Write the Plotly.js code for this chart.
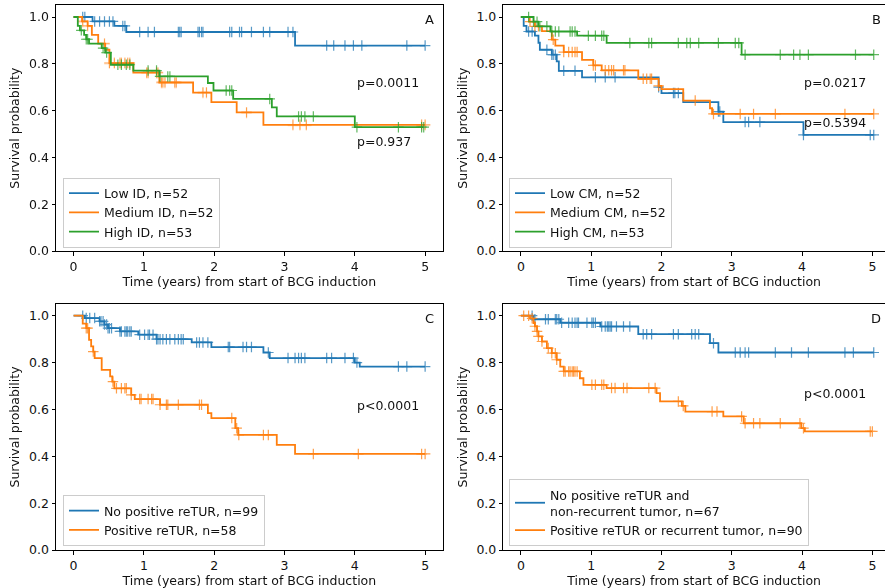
<!DOCTYPE html>
<html><head><meta charset="utf-8">
<script src="https://cdn.plot.ly/plotly-3.0.1.min.js"></script>
<style>html,body{margin:0;padding:0;background:#fff;overflow:hidden}</style>
</head><body><div id="chart" style="width:885px;height:588px"></div>
<script>
// ---------- Panel A: ID groups ----------
const A_low_t  = [0, 0.27, 0.58, 0.75, 3.15];
const A_low_s  = [1.0, 0.981, 0.962, 0.936, 0.878];
const A_low_c  = [0.13,0.16,0.30,0.37,0.44,0.51,0.56,0.70,0.73,0.94,1.06,1.15,1.49,1.51,1.53,1.77,1.79,1.82,1.84,2.22,2.25,2.36,2.39,2.53,2.70,2.79,3.05,3.12,3.60,3.70,3.86,3.98,4.10,4.74,5.00];
const A_med_t  = [0, 0.12, 0.20, 0.26, 0.35, 0.45, 0.51, 0.85, 1.22, 1.70, 1.96, 2.32, 2.70];
const A_med_s  = [1.0, 0.981, 0.962, 0.924, 0.886, 0.860, 0.803, 0.762, 0.720, 0.677, 0.636, 0.592, 0.539];
const A_med_c  = [0.13,0.20,0.44,0.51,0.58,0.66,0.68,0.73,0.77,0.80,1.04,1.06,1.18,1.20,1.25,1.27,1.30,1.44,1.46,1.84,1.89,2.46,3.12,3.22,3.31,4.95,5.00];
const A_high_t = [0, 0.06, 0.09, 0.15, 0.18, 0.22, 0.40, 0.45, 0.53, 0.85, 1.22, 1.91, 1.99, 2.27, 2.82, 2.89, 4.00];
const A_high_s = [1.0, 0.962, 0.943, 0.924, 0.905, 0.886, 0.867, 0.848, 0.796, 0.771, 0.746, 0.718, 0.686, 0.650, 0.614, 0.575, 0.529];
const A_high_c = [0.11,0.18,0.20,0.42,0.47,0.63,0.68,0.75,0.80,1.06,1.18,1.23,1.34,1.37,2.17,2.22,2.25,2.79,3.20,3.24,3.29,3.41,4.03,4.62,4.95,4.98];
const A_names  = ["Low ID, n=52", "Medium ID, n=52", "High ID, n=53"];
const A_pvals  = ["p=0.0011", "p=0.937"];
const A_pval_y = [0.719, 0.466];

// ---------- Panel B: CM groups ----------
const B_low_t  = [0, 0.04, 0.08, 0.20, 0.25, 0.27, 0.44, 0.51, 0.54, 0.87, 1.96, 2.00, 2.31, 2.81, 2.88, 4.02];
const B_low_s  = [1.0, 0.962, 0.938, 0.920, 0.890, 0.860, 0.839, 0.810, 0.770, 0.742, 0.700, 0.675, 0.636, 0.596, 0.551, 0.496];
const B_low_c  = [0.11,0.16,0.37,0.44,0.46,0.49,0.61,0.77,1.06,1.20,1.34,1.96,2.17,2.19,2.24,2.81,2.83,3.19,3.24,3.40,4.02,4.97,5.02];
const B_med_t  = [0, 0.12, 0.20, 0.30, 0.44, 0.49, 0.61, 0.87, 1.03, 1.15, 1.67, 1.96, 2.00, 2.31, 2.69, 2.72];
const B_med_s  = [1.0, 0.980, 0.960, 0.940, 0.903, 0.878, 0.850, 0.817, 0.793, 0.772, 0.736, 0.706, 0.692, 0.643, 0.610, 0.586];
const B_med_c  = [0.13,0.20,0.25,0.46,0.61,0.68,0.73,0.77,0.80,1.03,1.06,1.20,1.25,1.29,1.32,1.46,1.48,1.74,1.79,1.84,1.86,1.96,2.48,2.74,3.12,3.31,3.62,4.61,5.02];
const B_high_t = [0, 0.18, 0.25, 0.42, 0.80, 1.22, 3.14];
const B_high_s = [1.0, 0.980, 0.960, 0.938, 0.920, 0.889, 0.839];
const B_high_c = [0.11,0.18,0.23,0.27,0.37,0.44,0.49,0.54,0.70,0.73,0.77,0.96,1.06,1.15,1.18,1.55,1.82,1.86,2.24,2.36,2.41,2.53,2.81,3.05,3.10,3.19,3.69,3.88,3.97,4.09,4.76,5.02];
const B_names  = ["Low CM, n=52", "Medium CM, n=52", "High CM, n=53"];
const B_pvals  = ["p=0.0217", "p=0.5394"];
const B_pval_y = [0.72, 0.548];

// ---------- Panel C: reTUR ----------
const C_neg_t  = [0, 0.16, 0.37, 0.44, 0.49, 0.66, 0.92, 1.18, 1.68, 1.96, 2.70, 2.79, 4.00, 4.07];
const C_neg_s  = [1.0, 0.990, 0.976, 0.962, 0.947, 0.933, 0.919, 0.900, 0.886, 0.866, 0.843, 0.819, 0.800, 0.783];
const C_neg_c  = [0.13,0.18,0.23,0.30,0.37,0.39,0.42,0.44,0.47,0.49,0.51,0.54,0.66,0.68,0.73,0.75,0.77,0.80,0.82,0.94,1.01,1.06,1.08,1.13,1.18,1.20,1.23,1.27,1.32,1.37,1.44,1.49,1.53,1.56,1.75,1.79,1.84,1.91,2.20,2.22,2.41,2.46,2.53,2.77,3.05,3.15,3.20,3.24,3.29,3.60,3.67,3.86,3.98,4.03,4.62,4.74,5.00];
const C_pos_t  = [0, 0.13, 0.18, 0.22, 0.25, 0.28, 0.30, 0.40, 0.52, 0.55, 0.58, 0.82, 0.87, 1.23, 1.91, 1.96, 2.30, 2.34, 2.89, 3.15];
const C_pos_s  = [1.0, 0.966, 0.947, 0.897, 0.869, 0.847, 0.819, 0.769, 0.741, 0.719, 0.690, 0.662, 0.644, 0.620, 0.584, 0.563, 0.520, 0.491, 0.449, 0.410];
const C_pos_c  = [0.18,0.20,0.28,0.56,0.61,0.68,0.73,0.75,0.82,0.94,0.96,1.06,1.11,1.13,1.23,1.32,1.34,1.49,1.79,1.82,2.25,2.32,2.35,2.70,2.77,3.41,4.05,4.95,5.00];
const C_names  = ["No positive reTUR, n=99", "Positive reTUR, n=58"];
const C_pvals  = ["p<0.0001"];
const C_pval_y = [0.615];

// ---------- Panel D: reTUR or recurrence ----------
const D_neg_t  = [0, 0.18, 0.56, 1.13, 1.67, 2.69, 2.81];
const D_neg_s  = [1.0, 0.985, 0.970, 0.954, 0.921, 0.883, 0.843];
const D_neg_c  = [0.16,0.20,0.35,0.39,0.49,0.51,0.54,0.58,0.68,0.73,0.77,0.80,0.82,0.94,1.01,1.03,1.06,1.15,1.20,1.23,1.25,1.27,1.29,1.36,1.46,1.55,1.74,1.79,1.86,2.17,2.24,2.43,2.48,2.53,2.74,3.05,3.12,3.19,3.24,3.62,3.85,4.09,4.61,4.73,5.02];
const D_pos_t  = [0, 0.13, 0.18, 0.20, 0.23, 0.25, 0.30, 0.37, 0.44, 0.51, 0.56, 0.61, 0.84, 0.89, 1.22, 1.93, 1.98, 2.29, 2.34, 2.88, 3.17, 3.99, 4.04];
const D_pos_s  = [1.0, 0.989, 0.969, 0.955, 0.933, 0.912, 0.890, 0.862, 0.840, 0.812, 0.783, 0.762, 0.733, 0.705, 0.691, 0.670, 0.634, 0.615, 0.591, 0.570, 0.541, 0.520, 0.506];
const D_pos_c  = [0.04,0.11,0.16,0.20,0.23,0.25,0.30,0.39,0.44,0.49,0.51,0.61,0.63,0.68,0.70,0.73,0.75,0.77,0.80,1.01,1.06,1.15,1.18,1.29,1.34,1.46,1.51,1.82,1.91,2.24,2.31,2.72,2.79,3.14,3.19,3.31,3.40,3.69,3.97,4.02,4.97,5.00];
const D_names  = ["No positive reTUR and<br>non-recurrent tumor, n=67", "Positive reTUR or recurrent tumor, n=90"];
const D_pvals  = ["p<0.0001"];
const D_pval_y = [0.667];

const panelLetters = ["A", "B", "C", "D"];
const xTitle = "Time (years) from start of BCG induction";
const yTitle = "Survival probability";
const COLORS = ["#1f77b4", "#ff7f0e", "#2ca02c"];

// ---------- build ----------
function stepAt(ts, ss, t) {
  let v = ss[0];
  for (let i = 0; i < ts.length; i++) { if (ts[i] <= t) v = ss[i]; }
  return v;
}
const traces = [];
function addGroup(ax, legendId, name, color, ts, ss, cs) {
  const tEnd = Math.max(ts[ts.length - 1], Math.max(...cs));
  traces.push({
    type: "scatter", mode: "lines", name: name, legend: legendId,
    x: ts.concat([tEnd]), y: ss.concat([ss[ss.length - 1]]),
    xaxis: "x" + ax, yaxis: "y" + ax,
    line: {shape: "hv", color: color, width: 1.8}, hoverinfo: "skip"
  });
  traces.push({
    type: "scatter", mode: "markers", showlegend: false,
    x: cs, y: cs.map(t => stepAt(ts, ss, t)),
    xaxis: "x" + ax, yaxis: "y" + ax, opacity: 0.75,
    marker: {symbol: "cross-thin", size: 7.5, color: color, line: {color: color, width: 1.2}},
    hoverinfo: "skip"
  });
}
addGroup("", "legend", A_names[0], COLORS[0], A_low_t, A_low_s, A_low_c);
addGroup("", "legend", A_names[1], COLORS[1], A_med_t, A_med_s, A_med_c);
addGroup("", "legend", A_names[2], COLORS[2], A_high_t, A_high_s, A_high_c);
addGroup("2", "legend2", B_names[0], COLORS[0], B_low_t, B_low_s, B_low_c);
addGroup("2", "legend2", B_names[1], COLORS[1], B_med_t, B_med_s, B_med_c);
addGroup("2", "legend2", B_names[2], COLORS[2], B_high_t, B_high_s, B_high_c);
addGroup("3", "legend3", C_names[0], COLORS[0], C_neg_t, C_neg_s, C_neg_c);
addGroup("3", "legend3", C_names[1], COLORS[1], C_pos_t, C_pos_s, C_pos_c);
addGroup("4", "legend4", D_names[0], COLORS[0], D_neg_t, D_neg_s, D_neg_c);
addGroup("4", "legend4", D_names[1], COLORS[1], D_pos_t, D_pos_s, D_pos_c);

const W = 885, H = 588;
const FONT = {family: "DejaVu Sans", size: 12.5, color: "#111"};
function xAx(domL, domR, range, anchor) {
  return {domain: [domL / W, domR / W], range: range, anchor: anchor, automargin: false,
    showline: true, linecolor: "#000", linewidth: 1, mirror: true,
    ticks: "outside", ticklen: 3.5, tickwidth: 1, tickcolor: "#000",
    tickmode: "array", tickvals: [0, 1, 2, 3, 4, 5], tickfont: FONT,
    showgrid: false, zeroline: false,
    title: {text: xTitle, font: FONT, standoff: 4}};
}
function yAx(top, bot, anchor, mirror) {
  return {domain: [(H - bot) / H, (H - top) / H], range: [0, 1.05], anchor: anchor, automargin: false,
    showline: true, linecolor: "#000", linewidth: 1, mirror: mirror,
    ticks: "outside", ticklen: 3.5, tickwidth: 1, tickcolor: "#000",
    tickmode: "array", tickvals: [0, 0.2, 0.4, 0.6, 0.8, 1.0], tickformat: ".1f", tickfont: FONT,
    showgrid: false, zeroline: false,
    title: {text: yTitle, font: FONT, standoff: 6}};
}
const legendStyle = (x, y) => ({x: x / W, y: (H - y) / H, xanchor: "left", yanchor: "bottom",
  bgcolor: "rgba(255,255,255,0.8)", bordercolor: "#cccccc", borderwidth: 1,
  font: FONT, itemwidth: 30, tracegroupgap: 0, itemclick: false});

const annotations = [];
function pAnn(ax, texts, ys) {
  texts.forEach((t, i) => annotations.push({xref: "x" + ax, yref: "y" + ax, x: 4.0, y: ys[i],
    text: t, showarrow: false, xanchor: "left", yanchor: "middle", font: FONT}));
}
pAnn("", A_pvals, A_pval_y); pAnn("2", B_pvals, B_pval_y);
pAnn("3", C_pvals, C_pval_y); pAnn("4", D_pvals, D_pval_y);
["", "2", "3", "4"].forEach((ax, i) => annotations.push({xref: "x" + ax, yref: "y" + ax, x: 5.15, y: 0.99,
  text: panelLetters[i], showarrow: false, xanchor: "right", yanchor: "middle",
  font: {family: "DejaVu Sans", size: 13, color: "#111"}}));

const layout = {
  width: W, height: H, margin: {l: 0, r: 0, t: 0, b: 0},
  paper_bgcolor: "#fff", plot_bgcolor: "#fff", font: FONT,
  xaxis:  xAx(56, 442.7, [-0.25, 5.25], "y"),
  yaxis:  yAx(5.3, 251, "x", true),
  xaxis2: xAx(503.3, 885, [-0.25, 5.18], "y2"),
  yaxis2: yAx(5.3, 251, "x2", false),
  xaxis3: xAx(56, 442.7, [-0.25, 5.25], "y3"),
  yaxis3: yAx(304, 550, "x3", true),
  xaxis4: xAx(503.3, 885, [-0.25, 5.18], "y4"),
  yaxis4: yAx(304, 550, "x4", false),
  legend:  legendStyle(63, 247.5),
  legend2: legendStyle(509, 247.5),
  legend3: legendStyle(63, 546),
  legend4: legendStyle(509, 546),
  annotations: annotations,
  showlegend: true
};
Plotly.newPlot("chart", traces, layout, {staticPlot: true, displayModeBar: false});
</script></body></html>
